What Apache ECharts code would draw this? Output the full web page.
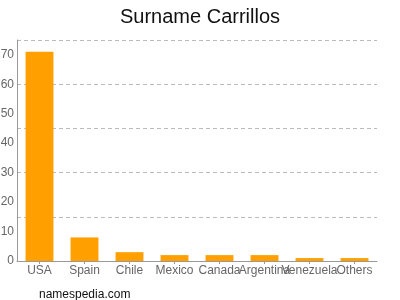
<!DOCTYPE html>
<html><head><meta charset="utf-8">
<script src="https://cdn.jsdelivr.net/npm/echarts@6/dist/echarts.min.js"></script>
<style>html,body{margin:0;padding:0;background:#fff}#c{width:400px;height:300px}</style>
</head><body><div id="c"></div>
<script>
var categories = ["USA","Spain","Chile","Mexico","Canada","Argentina","Venezuela","Others"];
var values = [71, 8, 3, 2, 2, 2, 1, 1];
var yTicks = [0,10,20,30,40,50,60,70];
var chart = echarts.init(document.getElementById('c'), null, {renderer:'canvas'});
chart.setOption({
  animation:false,
  title:[{text:'Surname Carrillos', left:'center', top:2, textStyle:{fontFamily:'Liberation Sans, Arial', fontSize:20, fontWeight:'normal', color:'#111'}},
         {text:'namespedia.com', left:34, top:284, textStyle:{fontFamily:'Liberation Sans, Arial', fontSize:12, fontWeight:'normal', color:'#111'}}],
  grid:{left:17, right:23, top:40, bottom:39, containLabel:false, outerBoundsMode:'none'},
  xAxis:{type:'category', data:categories,
    axisLine:{lineStyle:{color:'#999'}},
    axisTick:{show:true, alignWithLabel:true, length:3, lineStyle:{color:'#999'}},
    axisLabel:{color:'#666', fontFamily:'Liberation Sans, Arial', fontSize:12, margin:4, interval:0, hideOverlap:false}},
  yAxis:[{type:'value', min:0, max:75, interval:10,
    axisLine:{show:true, lineStyle:{color:'#999'}},
    axisTick:{show:false},
    splitLine:{show:false},
    axisLabel:{color:'#666', fontFamily:'Liberation Sans, Arial', fontSize:12, margin:3,
      formatter:function(v){return yTicks.indexOf(v)>=0 ? String(v) : '';}}},
   {type:'value', min:0, max:75, interval:15, position:'left',
    axisLine:{show:false}, axisTick:{show:false}, axisLabel:{show:false},
    splitLine:{show:true, lineStyle:{color:'#bbb', type:[4,3]}}}],
  series:[{type:'bar', data:values, barWidth:'62%', itemStyle:{color:'#ffa000'}, yAxisIndex:0}]
});
</script></body></html>
